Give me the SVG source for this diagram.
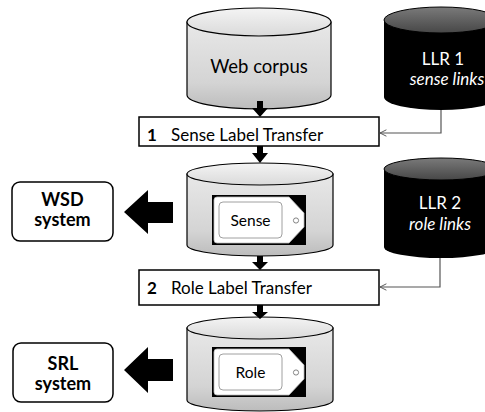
<svg xmlns="http://www.w3.org/2000/svg" width="485" height="412" viewBox="0 0 485 412">
<defs>
  <linearGradient id="grayBody" x1="0" y1="0" x2="0" y2="1">
    <stop offset="0" stop-color="#e8e8e8"/>
    <stop offset="0.7" stop-color="#d4d4d4"/>
    <stop offset="1" stop-color="#bcbcbc"/>
  </linearGradient>
  <linearGradient id="grayTop" x1="0" y1="0" x2="0" y2="1">
    <stop offset="0" stop-color="#f4f4f4"/>
    <stop offset="1" stop-color="#dadada"/>
  </linearGradient>
  <linearGradient id="darkTop" x1="0" y1="0" x2="0" y2="1">
    <stop offset="0" stop-color="#7a7a7a"/>
    <stop offset="1" stop-color="#474747"/>
  </linearGradient>
  <marker id="open" viewBox="0 0 10 10" refX="9" refY="5" markerWidth="8" markerHeight="8" markerUnits="userSpaceOnUse" orient="auto">
    <path d="M1,1 L9,5 L1,9" fill="none" stroke="#555" stroke-width="1.2"/>
  </marker>
  <g id="tag">
    <rect x="0" y="0" width="94" height="50" fill="#000"/>
    <path d="M5,2 H77 L92,18 V32 L77,48 H5 Q2,48 2,45 V5 Q2,2 5,2 Z" fill="#fff" stroke="#bbb" stroke-width="0.8"/>
    <rect x="7" y="7" width="63" height="36" rx="4" fill="#fff" stroke="#a0a0a0" stroke-width="1"/>
    <circle cx="84" cy="25.5" r="2.6" fill="#fff" stroke="#777" stroke-width="0.9"/>
  </g>
</defs>
<style>
  .t { font-family: Lato, "Open Sans", "Liberation Sans", sans-serif; fill: #000; }
  .w { font-family: Lato, "Open Sans", "Liberation Sans", sans-serif; fill: #fff; }
  .box { fill: #fff; stroke: #000; stroke-width: 1.5; }
  .cylg { stroke: #000; stroke-width: 1.2; }
  .conn { fill: none; stroke: #555; stroke-width: 1.2; }
  .blk { fill: #000; }
</style>

<g id="web-corpus">
  <path class="cylg" d="M187,22 V95 A72,14 0 0 0 331,95 V22 Z" fill="url(#grayBody)"/>
  <ellipse class="cylg" cx="259" cy="22" rx="72" ry="14" fill="url(#grayTop)"/>
  <text class="t" x="259" y="73" font-size="18.5" text-anchor="middle">Web corpus</text>
</g>

<g id="llr1">
  <path d="M384,20 V97 A57,13 0 0 0 498,97 V20 Z" fill="#000"/>
  <ellipse cx="441" cy="20" rx="57" ry="13" fill="url(#darkTop)" stroke="#000" stroke-width="1"/>
  <text class="w" x="443" y="65" font-size="17" text-anchor="middle">LLR 1</text>
  <text class="w" x="447" y="85" font-size="17" font-style="italic" text-anchor="middle">sense links</text>
</g>

<g id="sense-transfer">
  <rect class="box" x="139" y="117" width="240" height="29"/>
  <text class="t" x="147" y="141" font-size="17" font-weight="bold">1</text>
  <text class="t" x="171" y="141" font-size="17">Sense Label Transfer</text>
</g>

<g id="sense-corpus">
  <path class="cylg" d="M187,174 V245 A73,11 0 0 0 333,245 V174 Z" fill="url(#grayBody)"/>
  <ellipse class="cylg" cx="260" cy="174" rx="73" ry="11" fill="url(#grayTop)"/>
  <use href="#tag" x="212" y="195"/>
  <text class="t" x="250.5" y="225.5" font-size="15.5" text-anchor="middle">Sense</text>
</g>

<g id="llr2">
  <path d="M384,169 V247 A57,11 0 0 0 498,247 V169 Z" fill="#000"/>
  <ellipse cx="441" cy="169" rx="57" ry="11" fill="url(#darkTop)" stroke="#000" stroke-width="1"/>
  <text class="w" x="440" y="209" font-size="17" text-anchor="middle">LLR 2</text>
  <text class="w" x="440" y="230" font-size="17" font-style="italic" text-anchor="middle">role links</text>
</g>

<g id="wsd">
  <rect class="box" x="12" y="182" width="101" height="59" rx="8"/>
  <text class="t" x="62.5" y="206" font-size="18" font-weight="bold" text-anchor="middle">WSD</text>
  <text class="t" x="62.5" y="226" font-size="18" font-weight="bold" text-anchor="middle">system</text>
</g>

<g id="role-transfer">
  <rect class="box" x="139" y="270" width="240" height="35"/>
  <text class="t" x="147" y="294" font-size="17" font-weight="bold">2</text>
  <text class="t" x="171" y="294" font-size="17">Role Label Transfer</text>
</g>

<g id="role-corpus">
  <path class="cylg" d="M187,328 V400 A73,11 0 0 0 333,400 V328 Z" fill="url(#grayBody)"/>
  <ellipse class="cylg" cx="260" cy="328" rx="73" ry="11" fill="url(#grayTop)"/>
  <use href="#tag" x="212" y="347"/>
  <text class="t" x="250.5" y="377.5" font-size="15.5" text-anchor="middle">Role</text>
</g>

<g id="srl">
  <rect class="box" x="13" y="343" width="100" height="59" rx="8"/>
  <text class="t" x="63" y="370" font-size="18" font-weight="bold" text-anchor="middle">SRL</text>
  <text class="t" x="63" y="390" font-size="18" font-weight="bold" text-anchor="middle">system</text>
</g>

<g id="connectors">
  <path class="blk" d="M257,101 H263 V108 H268 L260,117 L252,108 H257 Z"/>
  <path class="blk" d="M257,146 H263 V153 H268 L260,163 L252,153 H257 Z"/>
  <path class="blk" d="M257,256 H263 V262 H268 L260,270 L252,262 H257 Z"/>
  <path class="blk" d="M257,305 H263 V312 H268 L260,319 L252,312 H257 Z"/>
  <path class="blk" d="M124,212 L148,190 V202 H173 V223 H148 V234 Z"/>
  <path class="blk" d="M124,370 L148,347 V359 H173 V381 H148 V393 Z"/>
  <path class="conn" d="M441,110 V133 H380" marker-end="url(#open)"/>
  <path class="conn" d="M440,258 V287 H380" marker-end="url(#open)"/>
</g>
</svg>
